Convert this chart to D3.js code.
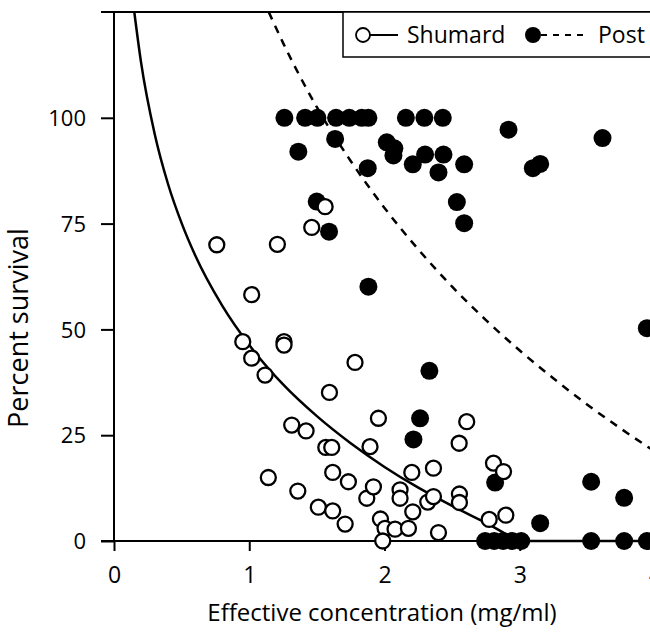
<!DOCTYPE html>
<html>
<head>
<meta charset="utf-8">
<script src="https://cdn.jsdelivr.net/npm/d3@7"></script>
<style>
  html, body { margin: 0; padding: 0; background: #fff; }
  svg { display: block; }
  text { font-family: "Open Sans", "Noto Sans", sans-serif; fill: #000; }
</style>
</head>
<body>
<svg id="chart" width="650" height="632"></svg>
<script>
// ---- data ----
const shumardX = [0.760,1.208,1.018,0.952,1.257,1.257,1.018,1.117,1.782,1.593,1.955,1.314,1.420,1.566,1.610,1.617,1.733,1.141,1.359,1.511,1.617,1.709,1.869,1.918,1.893,2.608,2.552,2.806,2.880,2.202,2.362,2.115,2.115,2.209,2.320,2.362,2.554,2.554,1.970,2.004,2.078,2.177,1.987,2.399,2.774,2.897,1.462,1.561];
const shumardY = [70.0,70.1,58.2,47.1,47.1,46.3,43.2,39.2,42.2,35.1,29.0,27.4,26.0,22.1,22.1,16.2,14.0,15.0,11.8,8.0,7.1,4.0,10.1,12.8,22.3,28.2,23.1,18.4,16.4,16.2,17.2,12.1,10.1,6.9,9.2,10.5,11.1,9.1,5.2,3.0,2.8,3.0,0.0,2.0,5.1,6.1,74.1,79.0];

const postX = [1.260,1.413,1.504,1.642,1.740,1.832,1.881,2.158,2.295,2.431,1.635,1.363,2.017,2.073,2.066,1.876,2.209,2.300,2.436,2.399,1.499,1.590,2.917,3.612,2.589,3.097,3.151,2.535,2.589,1.881,2.332,2.263,2.214,2.818,3.151,3.528,3.772,3.940,2.744,2.811,2.877,2.944,3.011,3.528,3.772,3.940];
const postY = [100,100,100,100,100,100,100,100,100,100,95.0,92.0,94.2,92.8,91.1,88.1,89.0,91.3,91.3,87.1,80.2,73.1,97.2,95.2,89.0,88.1,89.1,80.1,75.1,60.1,40.2,29.0,24.0,13.8,4.2,14.0,10.2,50.3,0,0,0,0,0,0,0,0];

// fitted lines
const shumardLineX = [0.15,0.2,0.3,0.4,0.5,0.6,0.8,1.0,1.25,1.5,1.75,2.0,2.25,2.5,2.75,3.05,4.0];
const shumardLineY = [125.0,113.1,96.3,84.3,75.1,67.5,55.6,46.3,37.0,29.5,23.1,17.5,12.6,8.3,4.3,0,0];
const postLineX = [1.144,1.25,1.5,1.75,2.0,2.25,2.5,2.75,3.0,3.25,3.5,3.75,4.0];
const postLineY = [125,117.7,102.5,89.8,78.7,68.9,60.1,52.2,45.0,38.4,32.2,26.5,21.1];

const xTicks = [0,1,2,3,4];
const yTicks = [0,25,50,75,100];
const xTitle = "Effective concentration (mg/ml)";
const yTitle = "Percent survival";
const legendLabels = ["Shumard", "Post"];

// ---- drawing ----
const svg = d3.select("#chart");
const x = d3.scaleLinear().domain([0, 4]).range([114, 655]);
const y = d3.scaleLinear().domain([0, 125]).range([541, 12]);

const axisW = 2;
const FONT = '"Open Sans", "Noto Sans", sans-serif';

// top frame line
svg.append("line")
  .attr("x1", 101).attr("x2", 650)
  .attr("y1", y(125)).attr("y2", y(125))
  .attr("stroke", "#000").attr("stroke-width", axisW);

// y axis
const yAxis = d3.axisLeft(y).tickValues(yTicks).tickSize(13).tickPadding(15);
const gy = svg.append("g").attr("transform", `translate(${x(0)},0)`).call(yAxis);
gy.select(".domain").remove();
gy.selectAll(".tick line").attr("stroke", "#000").attr("stroke-width", axisW);
gy.selectAll(".tick text").attr("font-size", 22).style("font-family", FONT).attr("dy", "0.35em");
svg.append("line")
  .attr("x1", x(0)).attr("x2", x(0))
  .attr("y1", y(125)).attr("y2", y(0) + 1)
  .attr("stroke", "#000").attr("stroke-width", axisW);

// x axis
const xAxis = d3.axisBottom(x).tickValues(xTicks).tickSize(10).tickPadding(16).tickFormat(d3.format("d"));
const gx = svg.append("g").attr("transform", `translate(0,${y(0)})`).call(xAxis);
gx.select(".domain").remove();
gx.selectAll(".tick line").attr("stroke", "#000").attr("stroke-width", axisW);
gx.selectAll(".tick text").attr("font-size", 23).style("font-family", FONT);
svg.append("line")
  .attr("x1", 101).attr("x2", 650)
  .attr("y1", y(0)).attr("y2", y(0))
  .attr("stroke", "#000").attr("stroke-width", axisW);

// lines
const line = d3.line().x(d => x(d[0])).y(d => y(d[1])).curve(d3.curveMonotoneX);
svg.append("path")
  .datum(shumardLineX.map((v, i) => [v, shumardLineY[i]]))
  .attr("d", line).attr("fill", "none").attr("stroke", "#000").attr("stroke-width", 2.5);
svg.append("path")
  .datum(postLineX.map((v, i) => [v, postLineY[i]]))
  .attr("d", line).attr("fill", "none").attr("stroke", "#000").attr("stroke-width", 2.5)
  .attr("stroke-dasharray", "8,7");

// points
svg.append("g").selectAll("circle")
  .data(postX.map((v, i) => [v, postY[i]]))
  .join("circle")
  .attr("cx", d => x(d[0])).attr("cy", d => y(d[1])).attr("r", 9)
  .attr("fill", "#000");
svg.append("g").selectAll("circle")
  .data(shumardX.map((v, i) => [v, shumardY[i]]))
  .join("circle")
  .attr("cx", d => x(d[0])).attr("cy", d => y(d[1])).attr("r", 7.5)
  .attr("fill", "#fff").attr("stroke", "#000").attr("stroke-width", 2.3);

// axis titles
svg.append("text")
  .attr("x", 382).attr("y", 621).attr("text-anchor", "middle")
  .attr("font-size", 24).text(xTitle);
svg.append("text")
  .attr("transform", "translate(28,328) rotate(-90)")
  .attr("text-anchor", "middle").attr("font-size", 27).text(yTitle);

// legend
const lg = svg.append("g");
lg.append("rect")
  .attr("x", 343).attr("y", y(125)).attr("width", 320).attr("height", 45)
  .attr("fill", "#fff").attr("stroke", "#000").attr("stroke-width", 1.5);
const ly = 35;
lg.append("circle").attr("cx", 363).attr("cy", ly).attr("r", 7)
  .attr("fill", "#fff").attr("stroke", "#000").attr("stroke-width", 1.8);
lg.append("line").attr("x1", 370).attr("x2", 398).attr("y1", ly).attr("y2", ly)
  .attr("stroke", "#000").attr("stroke-width", 2);
lg.append("text").attr("x", 407).attr("y", ly + 8).attr("font-size", 23).text(legendLabels[0]);
lg.append("circle").attr("cx", 533).attr("cy", ly).attr("r", 8).attr("fill", "#000");
lg.append("line").attr("x1", 541).attr("x2", 588).attr("y1", ly).attr("y2", ly)
  .attr("stroke", "#000").attr("stroke-width", 2).attr("stroke-dasharray", "6,6");
lg.append("text").attr("x", 598).attr("y", ly + 8).attr("font-size", 23).text(legendLabels[1]);
</script>
</body>
</html>
